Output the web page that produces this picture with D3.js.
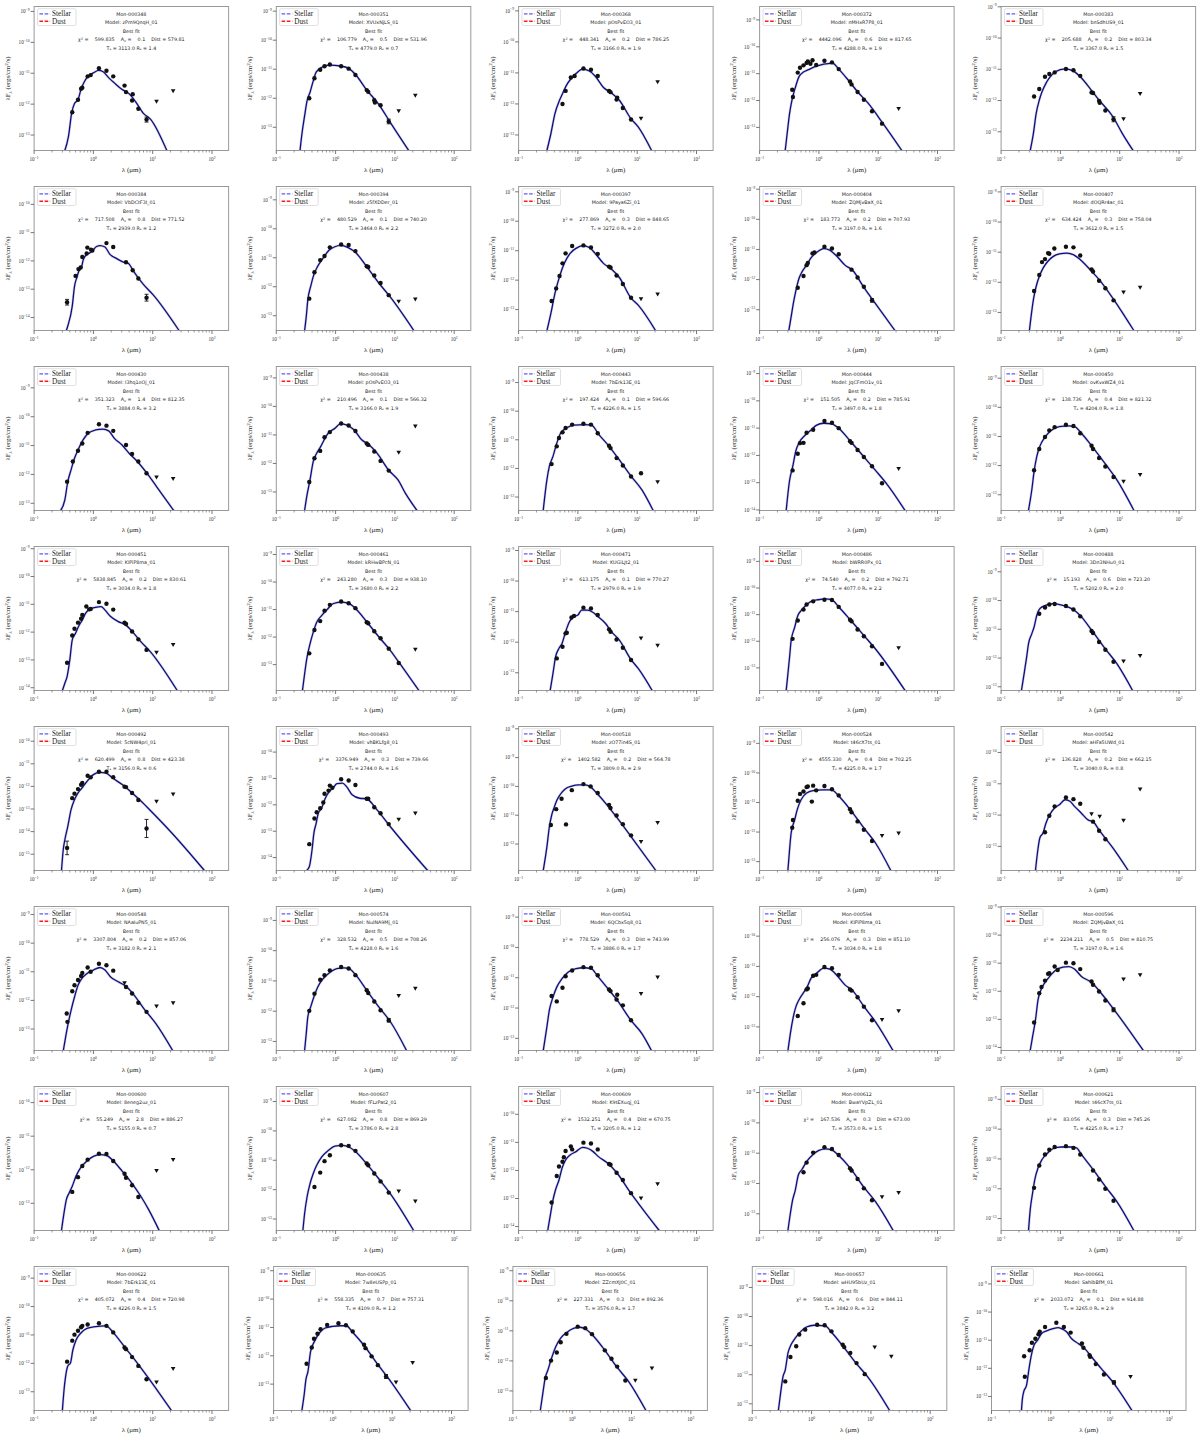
<!DOCTYPE html>
<html><head><meta charset="utf-8">
<script src="https://cdn.jsdelivr.net/npm/d3@7"></script>
<style>body{margin:0;background:#fff}svg{display:block}</style>
</head><body>
<svg id="c" width="1200" height="1438"></svg>
<script>
// ---------- panel labels ----------
const monIds = ["Mon-000348","Mon-000351","Mon-000368","Mon-000372","Mon-000383",
"Mon-000384","Mon-000394","Mon-000397","Mon-000404","Mon-000407",
"Mon-000430","Mon-000438","Mon-000443","Mon-000444","Mon-000450",
"Mon-000451","Mon-000461","Mon-000471","Mon-000486","Mon-000488",
"Mon-000492","Mon-000493","Mon-000518","Mon-000524","Mon-000542",
"Mon-000548","Mon-000574","Mon-000591","Mon-000594","Mon-000596",
"Mon-000600","Mon-000607","Mon-000609","Mon-000612","Mon-000621",
"Mon-000622","Mon-000635","Mon-000656","Mon-000657","Mon-000661"];
const modelNames = ["zPm9QnqH_01","XVUxNjLS_01","pOsPvEO3_01","nMHxR7P8_01","bnSdhUS9_01",
"VbDCtF3I_01","z5fXDDer_01","9Paya6Zi_01","ZQMjvBaX_01","dOQRr4ac_01",
"l3hq1oOj_01","pOsPvEO3_01","7bErk13E_01","JqCFmO1v_01","ovKvxWZ4_01",
"KIPiP8ma_01","kRHwBPcN_01","KUGiLJt2_01","bWRR0Px_01","3Dn3NHu0_01",
"5cNW4pri_01","vhBKLfg8_01","zO77in4S_01","t46cX7ts_01","aHFa5UWd_01",
"NAaluPN5_01","NuINA9Mj_01","6QCbx5q8_01","KIPiP8ma_01","ZQMjvBaX_01",
"8eneg2uz_01","fFLzPat2_01","K9tEXuqj_01","BwaYVpZL_01","t46cX7ts_01",
"7bErk13E_01","7w8eUSPp_01","ZZcmXJ0C_01","wHU95bUz_01","SahibBfM_01"];
const chi2Vals = [599.835,106.779,448.341,4442.096,205.688,717.508,480.529,277.869,183.773,634.424,
351.323,210.496,197.424,151.505,138.736,5838.845,243.280,613.175,74.540,15.193,
620.499,3376.949,1402.582,4555.330,136.828,3307.804,328.532,778.529,256.076,2234.211,
55.249,627.082,1532.251,167.536,83.056,405.072,558.335,227.331,598.016,2033.072];
const avVals = [0.1,0.5,0.2,0.6,0.2,0.8,0.1,0.3,0.2,0.3,1.4,0.1,0.1,0.2,0.4,0.2,0.3,0.1,0.2,0.6,
0.8,0.3,0.2,0.4,0.2,0.2,0.5,0.3,0.3,0.5,2.8,0.8,0.4,0.3,0.3,0.4,0.7,0.3,0.6,0.1];
const distVals = [579.81,531.96,786.25,817.65,803.34,771.52,740.20,848.65,707.93,758.04,
812.35,566.32,596.66,785.91,821.32,830.61,938.10,770.27,792.71,723.20,
423.38,739.66,564.78,702.25,662.15,857.06,708.26,743.99,851.10,810.75,
886.27,869.29,670.75,673.00,745.26,720.98,757.31,892.36,844.11,914.88];
const teffVals = [3113,4779,3166,4288,3367,2939,3464,3272,3197,3612,3884,3166,4226,3497,4204,
3034,3680,2979,4077,5202,3156,2744,3809,4225,3040,3182,4228,3886,3034,3197,
5155,3786,3205,3573,4225,4226,4109,3576,3842,3265];
const rstarVals = [1.4,0.7,1.9,1.9,1.5,1.2,2.2,2.0,1.6,1.5,3.2,1.9,1.5,1.8,1.8,1.8,2.2,1.9,2.2,2.0,
0.6,1.6,2.9,1.7,0.8,2.1,1.6,1.7,1.8,1.6,0.7,2.8,1.2,1.5,1.7,1.5,1.2,1.7,3.2,2.9];

// ---------- photometry: [lambda (um), log10 lamF_lam, optional log10 error] ----------
const obs348=[[0.44,-12.26],[0.55,-11.86],[0.62,-11.50],[0.65,-11.47],[0.80,-11.10],[0.90,-11.06],[1.24,-10.84],[1.66,-10.92],[2.16,-11.10],[3.35,-11.40],[3.55,-11.61],[4.49,-11.88],[4.6,-11.68],[5.73,-12.15],[7.87,-12.50,0.08]];
const lim348=[[11.6,-11.91],[22.1,-11.57]];
const fit348=[[0.33,-13.5],[0.38,-13.04],[0.43,-12.29],[0.48,-11.98],[0.55,-11.86],[0.62,-11.51],[0.71,-11.26],[0.83,-11.08],[1.0,-10.99],[1.22,-10.91],[1.46,-10.95],[1.82,-11.15],[2.27,-11.32],[2.97,-11.51],[3.98,-11.66],[5.1,-11.91],[6.9,-12.29],[9.3,-12.5],[17.3,-13.5]];

const obs351=[[0.36,-12.0],[0.44,-11.31],[0.55,-11.02],[0.65,-10.90],[0.80,-10.84],[1.24,-10.90],[1.66,-10.98],[2.16,-11.20],[3.35,-11.72],[3.55,-11.78],[4.49,-12.07],[4.6,-12.15],[5.73,-12.24],[7.87,-12.80,0.08]];
const lim351=[[11.6,-12.44],[22.1,-11.90]];
const fit351=[[0.25,-13.84],[0.27,-13.24],[0.30,-12.61],[0.33,-12.09],[0.37,-11.8],[0.42,-11.4],[0.47,-11.1],[0.58,-10.94],[0.78,-10.86],[1.21,-10.89],[1.68,-10.98],[2.2,-11.2],[3.3,-11.7],[5.3,-12.2],[8.4,-12.84],[17.6,-13.84]];

const obs368=[[0.55,-12.0],[0.62,-11.58],[0.76,-11.15],[0.88,-11.1],[1.24,-10.86],[1.66,-10.90],[2.16,-11.1],[3.35,-11.58],[3.55,-11.62],[4.49,-11.86],[4.6,-11.80],[5.73,-12.13],[7.87,-12.5]];
const lim368=[[11.6,-12.47],[22.1,-11.29]];
const fit368=[[0.30,-13.5],[0.35,-12.96],[0.41,-12.31],[0.49,-11.88],[0.55,-11.67],[0.64,-11.4],[0.77,-11.18],[0.93,-11.02],[1.2,-10.88],[1.56,-10.94],[1.95,-11.1],[2.7,-11.47],[3.7,-11.65],[5.0,-11.88],[7.8,-12.47],[10.4,-12.74],[17.5,-13.5]];

const obs372=[[0.355,-11.60],[0.365,-11.87],[0.44,-10.96],[0.48,-10.78],[0.55,-10.69],[0.62,-10.60],[0.65,-10.55],[0.72,-10.63],[0.78,-10.50],[0.90,-10.68],[1.24,-10.52],[1.66,-10.58],[2.16,-10.83],[3.35,-11.29],[3.55,-11.40],[4.49,-11.68],[5.73,-11.97],[7.87,-12.40],[11.6,-12.86]];
const lim372=[[22.1,-12.30]];
const fit372=[[0.27,-13.87],[0.30,-12.99],[0.32,-12.49],[0.35,-12.0],[0.40,-11.52],[0.46,-11.12],[0.55,-10.94],[0.67,-10.85],[0.84,-10.75],[1.13,-10.66],[1.52,-10.62],[1.66,-10.60],[2.2,-10.85],[3.2,-11.27],[4.6,-11.70],[6.7,-12.09],[12.1,-12.86],[25.4,-13.88]];

const obs383=[[0.36,-11.87],[0.44,-11.63],[0.55,-11.24],[0.65,-11.15],[0.80,-11.10],[1.24,-10.99],[1.66,-11.03],[2.16,-11.21],[3.35,-11.74],[3.55,-11.76],[4.49,-12.01],[4.6,-12.07],[5.73,-12.32],[7.87,-12.6,0.08]];
const lim383=[[11.6,-12.59],[22.1,-11.78]];
const fit383=[[0.31,-13.6],[0.35,-13.06],[0.39,-12.42],[0.44,-11.99],[0.49,-11.72],[0.57,-11.45],[0.66,-11.26],[0.82,-11.08],[1.2,-10.99],[1.61,-11.04],[2.16,-11.24],[3.4,-11.69],[4.5,-11.99],[7.7,-12.52],[11.1,-13.06],[16.8,-13.6]];

const obs384=[[0.36,-13.46,0.1],[0.50,-12.53],[0.56,-12.29],[0.61,-12.23],[0.65,-11.86],[0.77,-11.74],[0.79,-11.53],[0.91,-11.60],[0.96,-11.63],[1.66,-11.37],[2.16,-11.51],[3.55,-12.05],[4.6,-12.33],[5.73,-12.62],[7.87,-13.30,0.12]];
const lim384=[];
const fit384=[[0.35,-14.46],[0.37,-14.3],[0.44,-13.6],[0.48,-12.9],[0.53,-12.56],[0.56,-12.39],[0.63,-12.23],[0.67,-11.98],[0.75,-11.8],[0.82,-11.74],[0.93,-11.68],[1.13,-11.49],[1.3,-11.46],[1.57,-11.51],[1.9,-11.77],[2.47,-11.92],[3.2,-12.04],[3.9,-12.09],[4.7,-12.35],[6.9,-12.82],[10.2,-13.2],[27.8,-14.46]];

const obs394=[[0.36,-12.41],[0.44,-11.50],[0.55,-11.08],[0.65,-10.94],[0.80,-10.64],[1.24,-10.54],[1.66,-10.56],[2.16,-10.77],[3.35,-11.29],[3.55,-11.32],[4.49,-11.61],[5.73,-11.87],[7.87,-12.29]];
const lim394=[[11.6,-12.51],[22.1,-12.43]];
const fit394=[[0.30,-13.52],[0.32,-13.03],[0.34,-12.45],[0.38,-11.99],[0.43,-11.58],[0.50,-11.29],[0.62,-11.0],[0.78,-10.73],[0.97,-10.62],[1.2,-10.57],[1.63,-10.65],[2.2,-10.83],[3.3,-11.29],[5.35,-11.87],[8.4,-12.36],[21,-13.52]];

const obs397=[[0.36,-12.71],[0.43,-12.28],[0.49,-11.86],[0.55,-11.43],[0.62,-11.09],[0.80,-10.84],[1.24,-10.82],[1.66,-10.89],[2.16,-11.11],[3.35,-11.54],[3.55,-11.57],[4.49,-11.84],[5.73,-12.13],[7.87,-12.6]];
const lim397=[[11.6,-12.64],[22.1,-12.48]];
const fit397=[[0.30,-13.72],[0.35,-13.13],[0.41,-12.45],[0.49,-11.88],[0.59,-11.43],[0.74,-11.09],[0.93,-10.92],[1.2,-10.83],[1.56,-10.89],[1.95,-11.09],[2.7,-11.43],[3.7,-11.63],[5.0,-11.91],[7.8,-12.6],[10.4,-12.85],[20.5,-13.72]];

const obs404=[[0.44,-12.27],[0.55,-11.88],[0.62,-11.52],[0.65,-11.45],[0.78,-11.13],[0.84,-11.10],[1.24,-10.91],[1.66,-10.97],[2.16,-11.16],[3.55,-11.67],[4.49,-11.93],[5.73,-12.24],[7.87,-12.69,0.06]];
const lim404=[];
const fit404=[[0.31,-13.71],[0.34,-13.24],[0.37,-12.8],[0.41,-12.36],[0.46,-11.97],[0.52,-11.74],[0.62,-11.52],[0.74,-11.27],[0.9,-11.11],[1.21,-10.97],[1.52,-11.02],[2.04,-11.24],[2.75,-11.52],[3.7,-11.69],[5.77,-12.27],[9,-12.8],[19.5,-13.71]];

const obs407=[[0.36,-12.29],[0.44,-11.76],[0.49,-11.33],[0.55,-11.23],[0.62,-11.03],[0.65,-11.05],[0.79,-10.88],[1.24,-10.82],[1.66,-10.84],[2.16,-11.11],[3.35,-11.57],[3.55,-11.64],[4.49,-11.95],[5.73,-12.2],[7.87,-12.6]];
const lim407=[[11.6,-12.33],[22.1,-12.17]];
const fit407=[[0.30,-13.6],[0.32,-13.14],[0.35,-12.58],[0.39,-12.14],[0.44,-11.81],[0.51,-11.53],[0.61,-11.31],[0.76,-11.14],[0.96,-11.06],[1.29,-11.03],[1.68,-11.09],[2.17,-11.25],[3.38,-11.64],[4.54,-11.92],[7.67,-12.53],[17.3,-13.6]];

const obs430=[[0.36,-12.25],[0.45,-11.55],[0.55,-11.18],[0.65,-10.93],[0.80,-10.56],[1.24,-10.26],[1.66,-10.31],[2.16,-10.49],[3.55,-10.98],[4.49,-11.29],[5.73,-11.55],[7.87,-11.96]];
const lim430=[[11.6,-12.10],[22.1,-12.15]];
const fit430=[[0.28,-13.25],[0.33,-12.88],[0.37,-12.25],[0.42,-11.84],[0.48,-11.44],[0.55,-11.15],[0.67,-10.8],[0.82,-10.57],[1.08,-10.46],[1.45,-10.43],[1.81,-10.49],[2.26,-10.75],[3.04,-10.98],[4.1,-11.29],[5.5,-11.55],[7.8,-11.93],[11.6,-12.42],[22.6,-13.25]];

const obs438=[[0.36,-12.65],[0.44,-11.82],[0.55,-11.56],[0.65,-11.08],[0.80,-10.90],[1.24,-10.60],[1.66,-10.67],[2.16,-10.86],[3.35,-11.30],[3.55,-11.35],[4.49,-11.58],[5.73,-11.91],[7.87,-12.25]];
const lim438=[[11.6,-11.61],[22.1,-10.69]];
const fit438=[[0.30,-13.65],[0.33,-13.1],[0.37,-12.58],[0.42,-11.93],[0.48,-11.64],[0.56,-11.41],[0.65,-11.15],[0.75,-10.94],[0.97,-10.77],[1.21,-10.61],[1.52,-10.65],[2.04,-10.82],[2.75,-11.17],[3.7,-11.35],[5.0,-11.64],[7.8,-12.23],[11.3,-12.58],[15,-13.04],[23.6,-13.65]];

const obs443=[[0.36,-11.85],[0.44,-11.23],[0.48,-10.94],[0.55,-10.74],[0.62,-10.59],[0.80,-10.47],[1.24,-10.44],[1.66,-10.47],[2.16,-10.77],[3.35,-11.21],[3.55,-11.29],[4.49,-11.64],[5.73,-11.90],[7.87,-12.28],[11.6,-12.17]];
const lim443=[[22.1,-12.47]];
const fit443=[[0.26,-13.47],[0.30,-12.4],[0.33,-11.93],[0.38,-11.58],[0.44,-11.12],[0.51,-10.77],[0.64,-10.59],[0.86,-10.49],[1.31,-10.47],[1.7,-10.49],[2.26,-10.82],[3.3,-11.21],[4.6,-11.6],[7.8,-12.26],[12,-12.75],[18.6,-13.47]];

const obs444=[[0.36,-12.55],[0.44,-11.94],[0.48,-11.55],[0.55,-11.54],[0.62,-11.17],[0.80,-11.06],[1.24,-10.74],[1.66,-10.80],[2.16,-11.0],[3.35,-11.48],[3.55,-11.54],[4.49,-11.80],[5.73,-12.06],[7.87,-12.4],[11.6,-13.02]];
const lim444=[[22.1,-12.49]];
const fit444=[[0.28,-14.05],[0.32,-12.92],[0.36,-12.43],[0.41,-11.82],[0.47,-11.51],[0.58,-11.27],[0.72,-11.09],[0.9,-10.9],[1.21,-10.82],[1.63,-10.84],[2.2,-11.02],[3.4,-11.48],[5.77,-12.06],[9,-12.55],[14,-13.05],[29,-14.05]];

const obs450=[[0.36,-12.16],[0.44,-11.43],[0.55,-11.02],[0.65,-10.79],[0.80,-10.68],[1.24,-10.60],[1.66,-10.64],[2.16,-10.89],[3.35,-11.32],[3.55,-11.43],[4.49,-11.74],[5.73,-12.03],[7.87,-12.39]];
const lim450=[[11.6,-12.54],[22.1,-12.31]];
const fit450=[[0.29,-13.53],[0.33,-12.82],[0.36,-12.2],[0.40,-11.68],[0.45,-11.34],[0.55,-11.02],[0.69,-10.8],[0.96,-10.66],[1.39,-10.64],[1.73,-10.66],[2.26,-10.89],[3.36,-11.32],[5.86,-11.97],[8.9,-12.48],[17.3,-13.53]];

const obs451=[[0.36,-13.1],[0.44,-12.12],[0.48,-11.88],[0.55,-11.66],[0.62,-11.52],[0.65,-11.38],[0.76,-11.08],[0.85,-11.18],[0.90,-11.17],[1.24,-10.92],[1.66,-10.98],[2.16,-11.19],[3.35,-11.66],[3.55,-11.71],[4.49,-11.98],[5.73,-12.26],[7.87,-12.64]];
const lim451=[[11.6,-12.73],[22.1,-12.45]];
const fit451=[[0.30,-14.1],[0.33,-13.84],[0.36,-13.6],[0.40,-13.0],[0.44,-12.28],[0.50,-12.04],[0.56,-11.8],[0.65,-11.56],[0.74,-11.32],[0.86,-11.18],[1.08,-11.11],[1.35,-11.08],[1.56,-11.2],[1.95,-11.44],[2.63,-11.62],[3.5,-11.74],[4.7,-12.02],[6.3,-12.34],[9.1,-12.7],[25.9,-14.1]];

const obs461=[[0.36,-12.59],[0.44,-11.74],[0.55,-11.42],[0.65,-11.04],[0.80,-10.83],[1.24,-10.71],[1.66,-10.77],[2.16,-10.95],[3.35,-11.46],[3.55,-11.5],[4.49,-11.79],[5.73,-12.04],[7.87,-12.42],[11.6,-12.94]];
const lim461=[[22.1,-12.45]];
const fit461=[[0.275,-13.97],[0.30,-13.34],[0.33,-12.73],[0.37,-12.25],[0.42,-11.82],[0.48,-11.46],[0.58,-11.22],[0.72,-11.0],[0.9,-10.79],[1.21,-10.73],[1.63,-10.77],[2.2,-10.98],[3.4,-11.46],[5.3,-11.98],[8.4,-12.49],[12,-12.95],[26,-13.97]];

const obs471=[[0.44,-12.53],[0.55,-12.15],[0.62,-11.71],[0.65,-11.69],[0.78,-11.19],[0.86,-11.14],[1.24,-10.87],[1.66,-10.90],[2.16,-11.11],[3.35,-11.58],[3.55,-11.66],[4.49,-11.91],[5.73,-12.18],[7.87,-12.58]];
const lim471=[[11.6,-11.87],[22.1,-12.11]];
const fit471=[[0.34,-13.59],[0.38,-13.02],[0.42,-12.48],[0.48,-12.2],[0.54,-12.04],[0.62,-11.66],[0.72,-11.33],[0.86,-11.16],[1.0,-11.11],[1.16,-10.95],[1.45,-10.95],[1.81,-11.03],[2.17,-11.16],[2.9,-11.38],[3.7,-11.66],[5.0,-11.93],[7.8,-12.56],[10.4,-12.86],[18,-13.59]];

const obs486=[[0.36,-11.91],[0.44,-11.22],[0.55,-10.81],[0.62,-10.62],[0.80,-10.50],[1.24,-10.44],[1.66,-10.45],[2.16,-10.71],[3.35,-11.19],[3.55,-11.25],[4.49,-11.56],[5.73,-11.81],[7.87,-12.19],[11.6,-12.85]];
const lim486=[[22.1,-12.25]];
const fit486=[[0.28,-13.88],[0.30,-13.23],[0.32,-12.6],[0.34,-11.98],[0.39,-11.48],[0.44,-11.04],[0.50,-10.85],[0.60,-10.66],[0.74,-10.5],[0.97,-10.44],[1.3,-10.41],[1.63,-10.44],[2.2,-10.73],[3.4,-11.2],[5.77,-11.79],[9,-12.29],[29,-13.88]];

const obs488=[[0.44,-10.46],[0.55,-10.24],[0.65,-10.14],[0.80,-10.12],[1.24,-10.19],[1.66,-10.31],[2.16,-10.55],[3.35,-11.06],[3.55,-11.13],[4.49,-11.44],[5.73,-11.71],[7.87,-12.13]];
const lim488=[[11.6,-12.11],[22.1,-11.92]];
const fit488=[[0.22,-13.14],[0.24,-12.65],[0.27,-11.96],[0.29,-11.5],[0.33,-11.15],[0.36,-10.92],[0.40,-10.51],[0.45,-10.28],[0.56,-10.17],[0.76,-10.11],[1.1,-10.17],[1.72,-10.34],[2.26,-10.57],[3.36,-11.03],[5.67,-11.67],[8.9,-12.19],[16.6,-13.14]];

const obs492=[[0.36,-14.72,0.3],[0.44,-12.52],[0.48,-12.32],[0.55,-12.12],[0.62,-11.93],[0.65,-11.85],[0.80,-11.53],[0.90,-11.60],[1.24,-11.35],[1.66,-11.35],[2.16,-11.59],[3.35,-12.01],[3.55,-12.03],[4.49,-12.29],[5.73,-12.6],[7.87,-13.86,0.4]];
const lim492=[[11.6,-12.66],[22.1,-12.34]];
const fit492=[[0.29,-15.71],[0.31,-14.8],[0.33,-14.36],[0.37,-13.77],[0.42,-13.03],[0.48,-12.59],[0.55,-12.29],[0.64,-12.07],[0.78,-11.78],[1.0,-11.48],[1.29,-11.38],[1.63,-11.41],[2.1,-11.63],[3.1,-11.93],[4.5,-12.29],[6.4,-12.66],[9.4,-13.1],[21,-14.06],[74,-15.71]];

const obs493=[[0.36,-13.49],[0.44,-12.52],[0.48,-12.28],[0.55,-12.13],[0.62,-11.91],[0.65,-11.58],[0.76,-11.46],[0.80,-11.27],[0.88,-11.35],[1.24,-11.03],[1.66,-11.08],[2.16,-11.25],[3.35,-11.77],[3.55,-11.77],[4.49,-12.09],[5.73,-12.32],[7.87,-12.73]];
const lim493=[[11.6,-12.55],[22.1,-12.32]];
const fit493=[[0.32,-14.5],[0.36,-14.35],[0.40,-13.72],[0.43,-13.08],[0.47,-12.7],[0.51,-12.32],[0.58,-12.13],[0.67,-11.75],[0.78,-11.5],[0.9,-11.37],[1.05,-11.2],[1.31,-11.18],[1.52,-11.3],[1.9,-11.62],[2.55,-11.75],[3.3,-11.77],[5.0,-12.19],[8.4,-12.83],[36,-14.5]];

const obs518=[[0.35,-11.34],[0.43,-10.79],[0.53,-10.43],[0.63,-11.32],[0.79,-10.13],[1.24,-9.92],[1.64,-10.0],[2.16,-10.23],[3.35,-10.64],[3.55,-10.75],[4.49,-11.01],[5.73,-11.31],[7.87,-11.7]];
const lim518=[[11.6,-11.92],[22.1,-11.26]];
const fit518=[[0.26,-12.93],[0.30,-12.1],[0.33,-11.41],[0.36,-11.01],[0.40,-10.72],[0.44,-10.49],[0.50,-10.29],[0.61,-10.09],[0.79,-9.99],[1.02,-9.95],[1.32,-9.95],[1.66,-10.03],[2.07,-10.23],[3.06,-10.63],[4.5,-11.07],[7.6,-11.7],[20.8,-12.93]];

const obs524=[[0.355,-11.85],[0.365,-11.59],[0.44,-10.94],[0.48,-10.71],[0.55,-10.63],[0.62,-10.48],[0.65,-10.46],[0.76,-10.97],[0.80,-10.43],[0.90,-10.59],[1.24,-10.44],[1.66,-10.55],[2.16,-10.76],[3.35,-11.23],[3.55,-11.33],[4.49,-11.64],[5.73,-11.92],[7.87,-12.3]];
const lim524=[[11.6,-12.12],[22.1,-12.04]];
const fit524=[[0.30,-13.3],[0.32,-12.6],[0.34,-12.04],[0.39,-11.59],[0.43,-11.25],[0.50,-10.91],[0.62,-10.68],[0.84,-10.59],[1.12,-10.57],[1.63,-10.57],[2.2,-10.8],[3.4,-11.25],[5.77,-11.87],[9,-12.37],[16.3,-13.3]];

const obs542=[[0.55,-12.55],[0.65,-12.02],[0.80,-11.72],[1.24,-11.44],[1.66,-11.49],[2.16,-11.64],[3.55,-12.21],[4.49,-12.50],[5.73,-12.77]];
const lim542=[[3.35,-11.96],[4.6,-12.04],[11.6,-12.17],[22.1,-11.17]];
const fit542=[[0.38,-13.77],[0.41,-13.21],[0.45,-12.73],[0.51,-12.57],[0.57,-12.26],[0.66,-11.99],[0.79,-11.78],[0.96,-11.67],[1.2,-11.51],[1.45,-11.56],[1.73,-11.72],[2.26,-11.94],[2.9,-12.15],[3.64,-12.23],[4.54,-12.49],[7.67,-13.05],[13.9,-13.77]];

const obs548=[[0.355,-12.46],[0.365,-12.75],[0.44,-11.68],[0.48,-11.47],[0.55,-11.29],[0.62,-11.15],[0.65,-11.04],[0.80,-10.85],[0.90,-11.0],[1.24,-10.72],[1.66,-10.77],[2.16,-10.96],[3.55,-11.53],[4.49,-11.76],[5.73,-12.08],[7.87,-12.4]];
const lim548=[[3.35,-11.39],[11.6,-12.2],[22.1,-12.09]];
const fit548=[[0.31,-13.77],[0.34,-13.28],[0.37,-12.87],[0.42,-12.35],[0.48,-11.88],[0.55,-11.47],[0.64,-11.23],[0.78,-11.06],[1.0,-10.94],[1.29,-10.85],[1.57,-10.94],[1.95,-11.18],[2.63,-11.35],[3.5,-11.5],[4.7,-11.78],[7.3,-12.32],[11.3,-12.81],[22,-13.77]];

const obs574=[[0.36,-11.99],[0.44,-11.42],[0.55,-10.96],[0.65,-10.81],[0.80,-10.65],[1.24,-10.54],[1.66,-10.59],[2.16,-10.81],[3.35,-11.31],[3.55,-11.40],[4.49,-11.68],[5.73,-11.97],[7.87,-12.3,0.06]];
const lim574=[[11.6,-11.49],[22.1,-11.25]];
const fit574=[[0.30,-13.31],[0.32,-12.74],[0.34,-12.19],[0.38,-11.86],[0.43,-11.53],[0.50,-11.2],[0.62,-10.92],[0.78,-10.74],[1.05,-10.59],[1.4,-10.57],[1.68,-10.59],[2.2,-10.81],[3.4,-11.33],[5.35,-11.86],[8.4,-12.35],[15.8,-13.31]];

const obs591=[[0.36,-11.60],[0.44,-11.78],[0.55,-11.33],[0.62,-10.95],[0.80,-10.76],[1.24,-10.65],[1.66,-10.67],[2.16,-10.92],[3.35,-11.39],[3.55,-11.44],[4.49,-11.72],[4.6,-11.56],[5.73,-11.91],[7.87,-12.4]];
const lim591=[[11.6,-11.53],[22.1,-10.98]];
const fit591=[[0.26,-13.41],[0.30,-12.62],[0.33,-12.07],[0.38,-11.64],[0.44,-11.31],[0.54,-11.03],[0.69,-10.81],[0.93,-10.7],[1.25,-10.67],[1.68,-10.7],[2.1,-10.92],[3.3,-11.39],[4.6,-11.74],[7.8,-12.4],[12,-12.84],[17.5,-13.41]];

const obs594=[[0.44,-12.64],[0.55,-12.22],[0.62,-11.76],[0.65,-11.73],[0.80,-11.31],[0.90,-11.28],[1.24,-11.02],[1.66,-11.06],[2.16,-11.28],[3.35,-11.76],[3.55,-11.80],[4.49,-12.02],[5.73,-12.33],[7.87,-12.78]];
const lim594=[[11.6,-12.76],[22.1,-12.47]];
const fit594=[[0.30,-13.8],[0.33,-13.22],[0.37,-12.67],[0.41,-12.33],[0.46,-12.11],[0.54,-11.89],[0.63,-11.69],[0.74,-11.39],[0.9,-11.24],[1.21,-11.06],[1.52,-11.09],[2.04,-11.31],[2.75,-11.61],[3.7,-11.8],[5.77,-12.33],[9,-12.83],[18,-13.8]];

const obs596=[[0.36,-13.11],[0.44,-12.07],[0.48,-11.85],[0.55,-11.62],[0.62,-11.38],[0.65,-11.36],[0.80,-11.12],[0.90,-11.24],[1.24,-10.98],[1.66,-11.0],[2.16,-11.21],[3.35,-11.65],[3.55,-11.77],[4.49,-12.01],[5.73,-12.33],[7.87,-12.66,0.07]];
const lim596=[[11.6,-11.57],[22.1,-11.42]];
const fit596=[[0.31,-14.11],[0.34,-13.61],[0.38,-13.02],[0.42,-12.3],[0.47,-11.95],[0.54,-11.71],[0.66,-11.47],[0.82,-11.26],[1.1,-11.14],[1.39,-11.12],[1.73,-11.21],[2.26,-11.47],[3.36,-11.69],[4.87,-12.07],[7.67,-12.6],[25,-14.11]];

const obs600=[[0.44,-12.66],[0.55,-12.22],[0.65,-11.89],[0.80,-11.70],[1.24,-11.52],[1.66,-11.53],[2.16,-11.74],[3.35,-12.12],[3.55,-12.24],[4.49,-12.46],[5.73,-12.81]];
const lim600=[[11.6,-12.03],[22.1,-11.70]];
const fit600=[[0.29,-13.8],[0.32,-13.28],[0.35,-12.89],[0.39,-12.69],[0.44,-12.49],[0.51,-12.19],[0.61,-11.94],[0.78,-11.74],[1.0,-11.6],[1.29,-11.55],[1.69,-11.58],[2.17,-11.74],[3.05,-12.04],[4.4,-12.39],[6.3,-12.79],[8.5,-13.18],[12.8,-13.8]];

const obs607=[[0.44,-11.91],[0.55,-11.42],[0.65,-11.03],[0.80,-10.83],[1.24,-10.49],[1.66,-10.51],[2.16,-10.68],[3.35,-11.11],[3.55,-11.17],[4.49,-11.45],[5.73,-11.72],[7.87,-12.1]];
const lim607=[[11.6,-12.05],[22.1,-12.39]];
const fit607=[[0.28,-13.41],[0.30,-12.82],[0.33,-12.25],[0.37,-11.8],[0.42,-11.45],[0.48,-11.17],[0.58,-10.89],[0.76,-10.66],[0.97,-10.52],[1.31,-10.49],[1.68,-10.55],[2.2,-10.72],[3.4,-11.14],[5.35,-11.63],[8.4,-12.14],[21,-13.41]];

const obs609=[[0.36,-13.14],[0.44,-12.2],[0.48,-11.86],[0.55,-11.69],[0.58,-11.53],[0.62,-11.31],[0.76,-11.15],[0.80,-11.25],[1.24,-11.01],[1.66,-11.04],[2.16,-11.25],[3.35,-11.77],[3.55,-11.8],[4.49,-12.08],[5.73,-12.34],[7.87,-12.81]];
const lim609=[[11.6,-12.99],[22.1,-12.48]];
const fit609=[[0.31,-14.14],[0.34,-13.64],[0.38,-13.05],[0.42,-12.69],[0.48,-12.34],[0.54,-11.92],[0.62,-11.63],[0.74,-11.45],[0.93,-11.33],[1.2,-11.18],[1.45,-11.21],[1.81,-11.33],[2.17,-11.49],[3.3,-11.77],[4.6,-12.1],[7.8,-12.81],[12,-13.34],[23.5,-14.14]];

const obs612=[[0.55,-11.63],[0.62,-11.31],[0.80,-10.98],[1.24,-10.80],[1.66,-10.86],[2.16,-11.06],[3.35,-11.5],[3.55,-11.57],[4.49,-11.85],[5.73,-12.16],[7.87,-12.55]];
const lim612=[[11.6,-12.44],[22.1,-12.30]];
const fit612=[[0.30,-13.56],[0.33,-12.99],[0.36,-12.55],[0.40,-12.22],[0.45,-11.72],[0.52,-11.53],[0.62,-11.28],[0.78,-11.06],[1.0,-10.91],[1.3,-10.86],[1.63,-10.89],[2.2,-11.09],[3.4,-11.5],[5.77,-12.13],[9,-12.6],[18,-13.56]];

const obs621=[[0.36,-11.97],[0.44,-11.22],[0.55,-10.85],[0.65,-10.69],[0.80,-10.60],[1.24,-10.57],[1.66,-10.63],[2.16,-10.85],[3.55,-11.39],[4.49,-11.69],[5.73,-12.0],[7.87,-12.4]];
const lim621=[];
const fit621=[[0.29,-13.4],[0.31,-12.7],[0.34,-12.14],[0.37,-11.69],[0.42,-11.3],[0.49,-11.02],[0.61,-10.8],[0.76,-10.65],[1.03,-10.6],[1.49,-10.6],[1.87,-10.63],[2.26,-10.85],[3.64,-11.38],[5.86,-11.95],[8.9,-12.42],[17.3,-13.4]];

const obs622=[[0.36,-11.94],[0.44,-11.2],[0.48,-10.99],[0.55,-10.85],[0.62,-10.73],[0.65,-10.68],[0.80,-10.63],[1.24,-10.59],[1.66,-10.68],[2.16,-10.91],[3.35,-11.44],[3.55,-11.5],[4.49,-11.78],[5.73,-12.09],[7.87,-12.56]];
const lim622=[[11.6,-12.66],[22.1,-12.19]];
const fit622=[[0.30,-13.65],[0.32,-12.93],[0.34,-12.46],[0.37,-12.09],[0.41,-11.99],[0.45,-11.53],[0.51,-11.18],[0.61,-10.94],[0.78,-10.77],[1.08,-10.71],[1.56,-10.68],[1.75,-10.71],[2.17,-10.92],[3.5,-11.47],[5.5,-11.99],[8.5,-12.52],[20.5,-13.65]];

const obs635=[[0.36,-12.28],[0.44,-11.71],[0.48,-11.40],[0.55,-11.22],[0.62,-11.06],[0.80,-10.91],[1.24,-10.85],[1.66,-10.92],[2.16,-11.14],[3.35,-11.61],[3.55,-11.73],[4.49,-12.02],[5.73,-12.33],[7.87,-12.73,0.07]];
const lim635=[[11.6,-12.93],[22.1,-12.24]];
const fit635=[[0.30,-13.93],[0.33,-13.32],[0.35,-12.85],[0.38,-12.55],[0.42,-11.85],[0.49,-11.49],[0.59,-11.2],[0.74,-11.02],[1.0,-10.96],[1.35,-10.94],[1.68,-10.94],[2.17,-11.18],[3.28,-11.61],[5.5,-12.26],[8.6,-12.79],[20.4,-13.93]];

const obs656=[[0.36,-12.57],[0.44,-11.99],[0.55,-11.72],[0.64,-11.38],[0.80,-11.10],[1.24,-10.86],[1.66,-10.91],[2.16,-11.11],[3.55,-11.65],[4.6,-11.93],[5.73,-12.19],[7.87,-12.65]];
const lim656=[[11.6,-12.65],[22.1,-12.24]];
const fit656=[[0.29,-13.65],[0.32,-13.07],[0.35,-12.57],[0.39,-12.3],[0.44,-11.96],[0.53,-11.52],[0.64,-11.24],[0.8,-11.06],[1.08,-10.91],[1.35,-10.88],[1.68,-10.94],[2.17,-11.13],[3.5,-11.63],[5.7,-12.21],[8.9,-12.68],[17.5,-13.65]];

const obs657=[[0.36,-12.23],[0.44,-11.39],[0.55,-11.02],[0.62,-10.62],[0.78,-10.45],[1.24,-10.28],[1.66,-10.30],[2.16,-10.51],[3.35,-10.97],[3.55,-11.05],[4.49,-11.25],[5.73,-11.60],[7.87,-11.98]];
const lim657=[[11.6,-11.05],[22.1,-11.37]];
const fit657=[[0.275,-13.23],[0.30,-12.63],[0.33,-12.06],[0.36,-11.83],[0.40,-11.25],[0.45,-10.97],[0.53,-10.74],[0.66,-10.51],[0.82,-10.36],[1.11,-10.3],[1.49,-10.31],[1.73,-10.33],[2.17,-10.54],[3.38,-11.02],[5.7,-11.62],[8.9,-12.08],[20.7,-13.23]];

const obs661=[[0.355,-11.57],[0.365,-12.30],[0.44,-11.36],[0.48,-11.09],[0.55,-10.95],[0.62,-10.79],[0.65,-10.70],[0.80,-10.53],[1.24,-10.38],[1.66,-10.53],[2.16,-10.73],[3.35,-11.12],[3.55,-11.27],[4.49,-11.53],[4.6,-11.59],[5.73,-11.85],[7.87,-12.22],[11.6,-12.5,0.06]];
const lim661=[[22.1,-12.3]];
const fit661=[[0.32,-13.51],[0.33,-13.13],[0.35,-12.83],[0.39,-12.6],[0.43,-12.0],[0.47,-11.53],[0.52,-11.18],[0.6,-11.0],[0.7,-10.76],[0.85,-10.67],[1.09,-10.59],[1.33,-10.55],[1.51,-10.59],[1.84,-10.7],[2.23,-10.94],[2.9,-11.12],[3.74,-11.3],[4.85,-11.59],[7.1,-12.01],[10.5,-12.42],[23.5,-13.51]];

const obsSets=[obs348,obs351,obs368,obs372,obs383,obs384,obs394,obs397,obs404,obs407,obs430,obs438,obs443,obs444,obs450,obs451,obs461,obs471,obs486,obs488,obs492,obs493,obs518,obs524,obs542,obs548,obs574,obs591,obs594,obs596,obs600,obs607,obs609,obs612,obs621,obs622,obs635,obs656,obs657,obs661];
const limSets=[lim348,lim351,lim368,lim372,lim383,lim384,lim394,lim397,lim404,lim407,lim430,lim438,lim443,lim444,lim450,lim451,lim461,lim471,lim486,lim488,lim492,lim493,lim518,lim524,lim542,lim548,lim574,lim591,lim594,lim596,lim600,lim607,lim609,lim612,lim621,lim622,lim635,lim656,lim657,lim661];
const fitSets=[fit348,fit351,fit368,fit372,fit383,fit384,fit394,fit397,fit404,fit407,fit430,fit438,fit443,fit444,fit450,fit451,fit461,fit471,fit486,fit488,fit492,fit493,fit518,fit524,fit542,fit548,fit574,fit591,fit594,fit596,fit600,fit607,fit609,fit612,fit621,fit622,fit635,fit656,fit657,fit661];

const xTickPowers = [-1, 0, 1, 2];

// ---------- layout ----------
const COL_X0 = [93.4, 335.6, 577.9, 818.9, 1060.4];   // pixel of 10^0 per column
const LAST_ROW_SHIFT = [0, -2.7, -5.7, -7.3, -9.6];
const DECPX = 59.3, XMAXLOG = 2.28;
const TOP0 = 6.5, ROW_H = 180, AX_H = 144;

const svg = d3.select('#c');
const SERIF = 'Liberation Serif, DejaVu Serif, serif';
const SANS = 'DejaVu Sans, sans-serif';
const minus = s => String(s).replace('-', '\u2212');

function power10(g, x, y, p, anchor, fs) {
  const t = g.append('text').attr('x', x).attr('y', y).attr('text-anchor', anchor)
    .attr('font-family', SERIF).attr('font-size', fs).attr('fill', '#333');
  t.append('tspan').text('10');
  t.append('tspan').attr('dy', -fs*0.42).attr('font-size', fs*0.72).text(minus(p));
  return t;
}

monIds.forEach((id, i) => {
  const r = Math.floor(i/5), c = i % 5;
  const x0 = COL_X0[c] + (r === 7 ? LAST_ROW_SHIFT[c] : 0);
  const left = x0 - DECPX, right = x0 + XMAXLOG*DECPX;
  const top = TOP0 + r*ROW_H, bottom = top + AX_H;
  const obs = obsSets[i], lim = limSets[i], fit = fitSets[i];
  const allV = obs.map(d => d[1]).concat(lim.map(d => d[1]));
  const yMin = d3.min(allV) - 1, yMax = d3.max(allV) + 2;

  const x = d3.scaleLog().domain([0.1, Math.pow(10, XMAXLOG)]).range([left, right]);
  const y = d3.scaleLog().domain([Math.pow(10, yMin), Math.pow(10, yMax)]).range([bottom, top]);

  const g = svg.append('g');
  const clipId = 'clip' + i;
  g.append('clipPath').attr('id', clipId).append('rect')
    .attr('x', left).attr('y', top).attr('width', right-left).attr('height', AX_H);

  // model curves
  const line = d3.line().x(d => x(d[0])).y(d => y(Math.pow(10, d[1]))).curve(d3.curveMonotoneX);
  const cg = g.append('g').attr('clip-path', `url(#${clipId})`);
  cg.append('path').attr('d', line(fit)).attr('fill', 'none')
    .attr('stroke', '#bdbdbd').attr('stroke-width', 2.6).attr('stroke-opacity', 0.6);
  cg.append('path').attr('d', line(fit)).attr('fill', 'none')
    .attr('stroke', '#0c0c8c').attr('stroke-width', 1.3);

  // photometry
  const pg = g.append('g');
  obs.forEach(d => {
    const px = x(d[0]), py = y(Math.pow(10, d[1]));
    if (d[2]) {
      const y1 = y(Math.pow(10, d[1]-d[2])), y2 = y(Math.pow(10, d[1]+d[2]));
      pg.append('line').attr('x1', px).attr('x2', px).attr('y1', y1).attr('y2', y2).attr('stroke', '#111').attr('stroke-width', 0.9);
      [y1, y2].forEach(yy => pg.append('line').attr('x1', px-2).attr('x2', px+2).attr('y1', yy).attr('y2', yy).attr('stroke', '#111').attr('stroke-width', 0.9));
    }
    pg.append('circle').attr('cx', px).attr('cy', py).attr('r', 2.2).attr('fill', '#111');
  });
  lim.forEach(d => {
    const px = x(d[0]), py = y(Math.pow(10, d[1]));
    pg.append('path').attr('d', `M${px-2.3},${py-1.7}L${px+2.3},${py-1.7}L${px},${py+2.3}Z`).attr('fill', '#111');
  });

  // frame
  g.append('rect').attr('x', left).attr('y', top).attr('width', right-left).attr('height', AX_H)
    .attr('fill', 'none').attr('stroke', '#9a9a9a').attr('stroke-width', 1);

  // x ticks
  xTickPowers.forEach(p => {
    const px = x(Math.pow(10, p));
    g.append('line').attr('x1', px).attr('x2', px).attr('y1', bottom).attr('y2', bottom+3.5).attr('stroke', '#555').attr('stroke-width', 0.8);
    power10(g, px, bottom+10.5, p, 'middle', 5.2);
    for (let m = 2; m <= 9; m++) {
      const v = m*Math.pow(10, p);
      if (v < Math.pow(10, XMAXLOG)) {
        const mx = x(v);
        g.append('line').attr('x1', mx).attr('x2', mx).attr('y1', bottom).attr('y2', bottom+2).attr('stroke', '#555').attr('stroke-width', 0.6);
      }
    }
  });
  // y ticks
  for (let p = Math.ceil(yMin); p <= Math.floor(yMax); p++) {
    const py = y(Math.pow(10, p));
    g.append('line').attr('x1', left-3.5).attr('x2', left).attr('y1', py).attr('y2', py).attr('stroke', '#555').attr('stroke-width', 0.8);
    power10(g, left-4.5, py+1.8, p, 'end', 5.2);
  }

  // axis labels
  const cx = (left+right)/2;
  const xl = g.append('text').attr('x', cx).attr('y', bottom+21).attr('text-anchor', 'middle')
    .attr('font-family', SERIF).attr('font-size', 7).attr('fill', '#222');
  xl.text('\u03bb (\u03bcm)');
  const yl = g.append('text').attr('transform', `translate(${left-24},${(top+bottom)/2}) rotate(-90)`)
    .attr('text-anchor', 'middle').attr('font-family', SERIF).attr('font-size', 6.8).attr('fill', '#222');
  yl.append('tspan').text('\u03bbF');
  yl.append('tspan').attr('dy', 1.5).attr('font-size', 5).text('\u03bb');
  yl.append('tspan').attr('dy', -1.5).text(' (ergs/cm');
  yl.append('tspan').attr('dy', -2.5).attr('font-size', 5).text('2');
  yl.append('tspan').attr('dy', 2.5).text('/s)');

  // legend
  const lg = g.append('g');
  lg.append('rect').attr('x', left+3.4).attr('y', top+2.2).attr('width', 38.5).attr('height', 16.8).attr('rx', 1.5)
    .attr('fill', '#fff').attr('stroke', '#d8d8d8').attr('stroke-width', 0.8);
  [['Stellar', '#5b5bff', 7.4], ['Dust', '#ff1a1a', 14.7]].forEach(([lab, col, dy]) => {
    lg.append('line').attr('x1', left+5.3).attr('x2', left+16).attr('y1', top+dy).attr('y2', top+dy)
      .attr('stroke', col).attr('stroke-width', 1.4).attr('stroke-dasharray', '3.6,1.6');
    lg.append('text').attr('x', left+18).attr('y', top+dy+2.3).attr('font-family', SERIF).attr('font-size', 7.2)
      .attr('fill', '#222').text(lab);
  });

  // fit text
  const tg = g.append('g').attr('font-family', SANS).attr('font-size', 4.8).attr('fill', '#222').attr('text-anchor', 'middle');
  tg.append('text').attr('x', cx).attr('y', top+9.1).text(id);
  tg.append('text').attr('x', cx).attr('y', top+17.7).text('Model: ' + modelNames[i]);
  tg.append('text').attr('x', cx).attr('y', top+26.3).text('Best fit');
  const l4 = tg.append('text').attr('x', cx).attr('y', top+34.9).attr('xml:space', 'preserve').style('white-space', 'pre');
  l4.append('tspan').text('\u03c7');
  l4.append('tspan').attr('dy', -1.8).attr('font-size', 3.4).text('2');
  l4.append('tspan').attr('dy', 1.8).text(' =    ' + chi2Vals[i].toFixed(3) + '    A');
  l4.append('tspan').attr('dy', 1).attr('font-size', 3.4).text('v');
  l4.append('tspan').attr('dy', -1).text(' =    ' + avVals[i].toFixed(1) + '    Dist = ' + distVals[i].toFixed(2));
  const l5 = tg.append('text').attr('x', cx).attr('y', top+43.5);
  l5.append('tspan').text('T');
  l5.append('tspan').attr('dy', 1).attr('font-size', 3.4).text('*');
  l5.append('tspan').attr('dy', -1).text(' = ' + teffVals[i].toFixed(1) + ' R');
  l5.append('tspan').attr('dy', 1).attr('font-size', 3.4).text('*');
  l5.append('tspan').attr('dy', -1).text(' = ' + rstarVals[i].toFixed(1));
});
</script>
</body></html>
